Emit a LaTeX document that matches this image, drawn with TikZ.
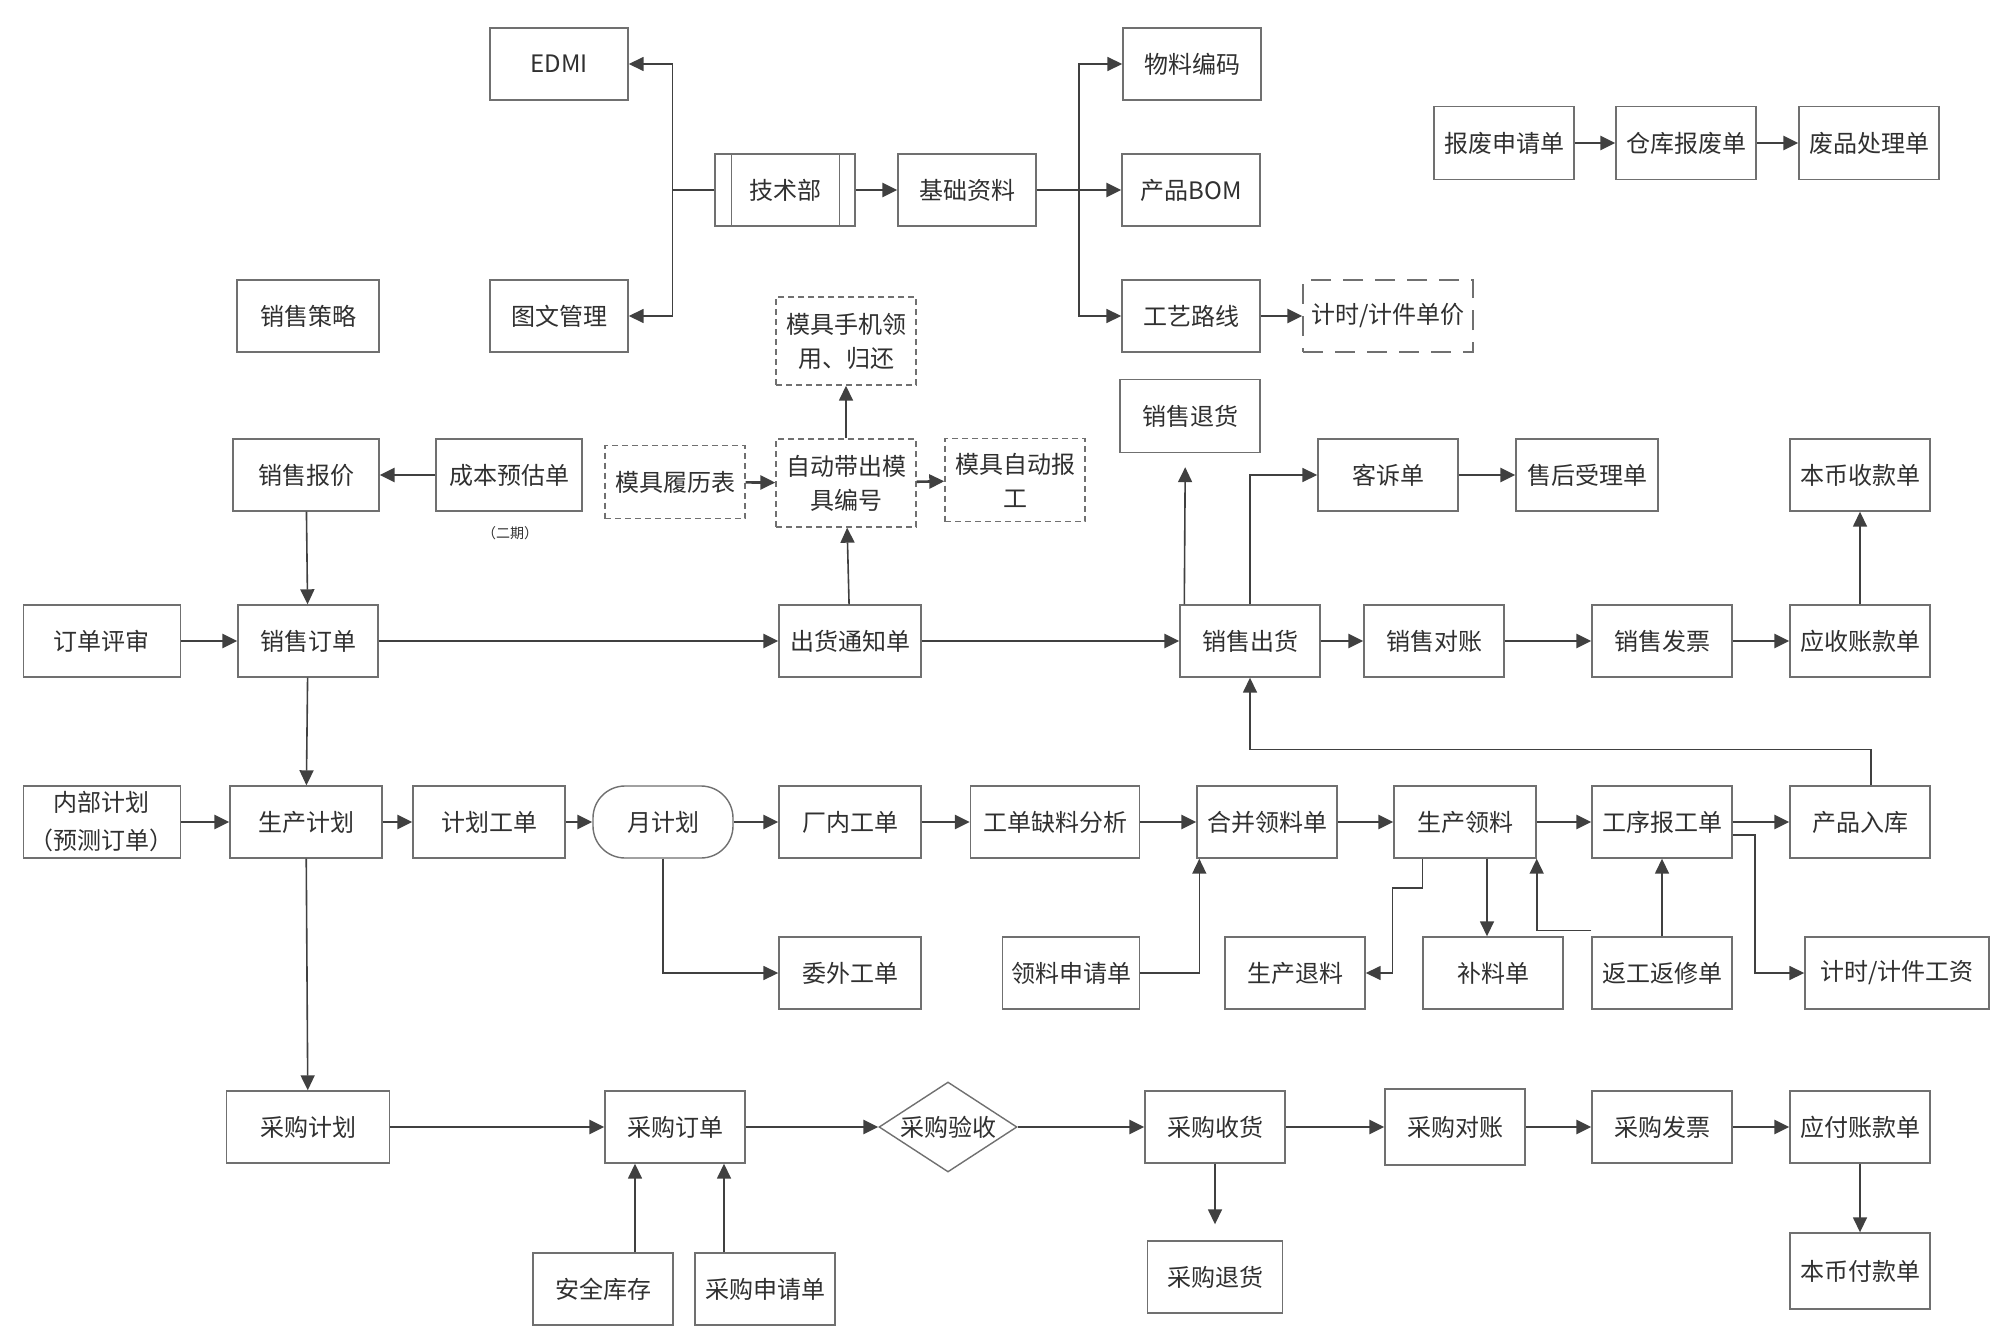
\documentclass[tikz,border=0pt]{standalone}
\usepackage{fontspec}
\setmainfont{Noto Sans CJK SC}
\usetikzlibrary{arrows.meta,shapes.geometric,calc}
\definecolor{boxgray}{HTML}{707070}
\definecolor{linegray}{HTML}{404040}
\definecolor{textgray}{HTML}{303030}
\tikzset{
  box/.style={draw=boxgray, line width=0.7pt, fill=white, minimum width=70pt, minimum height=36pt,
    inner sep=0pt, align=center, text=textgray, font=\fontsize{12pt}{17pt}\selectfont},
  dbox/.style={box, dash pattern=on 3pt off 2pt},
  arr/.style={-{Triangle[length=7.5pt,width=7pt]}, color=linegray, line width=1.3pt},
  arrv/.style={arr, line width=0.8pt}
}
\begin{document}
\begin{tikzpicture}[x=0.5pt,y=-0.5pt]
\useasboundingbox (0,0) rectangle (2004,1343);

% technical department
\node[box,minimum width=69pt] (edmi) at (559,64) {EDMI};
\node[box,minimum width=69pt] (tuwen) at (559,316) {图文管理};
\node[box,minimum width=71pt] (celue) at (308,316) {销售策略};
\node[box] (jishu) at (785,190) {技术部};
    \draw[boxgray, line width=0.7pt] ($(jishu.north west)+(17,0)$) -- ($(jishu.south west)+(17,0)$);
    \draw[boxgray, line width=0.7pt] ($(jishu.north east)+(-16,0)$) -- ($(jishu.south east)+(-16,0)$);
\node[box,minimum width=69pt] (jichu) at (967,190) {基础资料};
\node[box,minimum width=69pt] (wuliao) at (1192,64) {物料编码};
\node[box,minimum width=69pt] (bom) at (1191,190) {产品BOM};
\node[box,minimum width=69pt] (gongyi) at (1191,316) {工艺路线};
\node[box,minimum width=85pt,dash pattern=on 10pt off 6pt] (danjia) at (1388,316) {计时/计件单价};

% scrap
\node[box,minimum height=36.5pt] (baofeisq) at (1504,143) {报废申请单};
\node[box,minimum height=36.5pt] (cangku) at (1686,143) {仓库报废单};
\node[box,minimum height=36.5pt] (feipin) at (1869,143) {废品处理单};

% moulds
\node[dbox,minimum height=44pt] (mujushouji) at (846,341) {模具手机领\\用、归还};
\node[dbox,minimum height=36.5pt] (lvli) at (675,482) {模具履历表};
\node[dbox,minimum height=44pt] (zidong) at (846,483) {自动带出模\\具编号};
\node[dbox,minimum height=41.5pt] (baogong) at (1015,480) {模具自动报\\工};

% sales
\node[box,minimum width=73pt] (xsbaojia) at (306,475) {销售报价};
\node[box,minimum width=73pt] (chengben) at (509,475) {成本预估单};
    \node[text=textgray, font=\fontsize{7pt}{8pt}\selectfont] (erqi) at (510,533) {（二期）};
\node[box,minimum height=36.5pt] (xstuihuo) at (1190,416) {销售退货};
\node[box] (kesu) at (1388,475) {客诉单};
\node[box,minimum width=71pt] (shouhou) at (1587,475) {售后受理单};
\node[box] (shoukuan) at (1860,475) {本币收款单};
\node[box,minimum width=78.5pt] (pingshen) at (102,641) {订单评审};
\node[box] (xsdingdan) at (308,641) {销售订单};
\node[box,minimum width=71pt] (chuhuo) at (850,641) {出货通知单};
\node[box] (xschuhuo) at (1250,641) {销售出货};
\node[box] (xsduizhang) at (1434,641) {销售对账};
\node[box] (xsfapiao) at (1662,641) {销售发票};
\node[box] (yingshou) at (1860,641) {应收账款单};

% production
\node[box,minimum width=78.5pt,font=\fontsize{12pt}{19pt}\selectfont] (neibu) at (102,822) {内部计划\\（预测订单）};
\node[box,minimum width=76pt] (scjihua) at (306,822) {生产计划};
\node[box,minimum width=76pt] (jhgongdan) at (489,822) {计划工单};
\node[box,rounded corners=16pt] (yuejihua) at (663,822) {月计划};
\node[box,minimum width=71pt] (changnei) at (850,822) {厂内工单};
\node[box,minimum width=84.5pt] (queliao) at (1055,822) {工单缺料分析};
\node[box] (hebing) at (1267,822) {合并领料单};
\node[box,minimum width=71pt] (sclingliao) at (1465,822) {生产领料};
\node[box] (gongxu) at (1662,822) {工序报工单};
\node[box] (ruku) at (1860,822) {产品入库};
\node[box,minimum width=71pt] (weiwai) at (850,973) {委外工单};
\node[box,minimum width=68.5pt] (lingliaosq) at (1071,973) {领料申请单};
\node[box] (tuiliao) at (1295,973) {生产退料};
\node[box] (buliao) at (1493,973) {补料单};
\node[box] (fangong) at (1662,973) {返工返修单};
\node[box,minimum width=92pt] (gongzi) at (1897,973) {计时/计件工资};

% purchasing
\node[box,minimum width=81.5pt] (cgjihua) at (308,1127) {采购计划};
\node[box] (cgdingdan) at (675,1127) {采购订单};
\node[diamond, draw=boxgray, line width=0.7pt, fill=white, minimum width=69pt, minimum height=45pt, inner sep=0pt] (yanshou) at (948,1127) {};
    \node[text=textgray, font=\fontsize{12pt}{17pt}\selectfont] (yanshoutxt) at (yanshou) {采购验收};
\node[box] (shouhuo) at (1215,1127) {采购收货};
\node[box,minimum height=38pt] (cgduizhang) at (1455,1127) {采购对账};
\node[box] (cgfapiao) at (1662,1127) {采购发票};
\node[box] (yingfu) at (1860,1127) {应付账款单};
\node[box] (anquan) at (603,1289) {安全库存};
\node[box] (cgshenqing) at (765,1289) {采购申请单};
\node[box,minimum width=67.5pt] (cgtuihuo) at (1215,1277) {采购退货};
\node[box,minimum height=38pt] (fukuan) at (1860,1271) {本币付款单};

% connectors, top
\draw[arrv] (jishu.west) -- ++(-42,0) |- (edmi.east);
\draw[arrv] (jishu.west) -- ++(-42,0) |- (tuwen.east);
\draw[arr] (jishu) -- (jichu);
\draw[arrv] (jichu.east) -- ++(42,0) |- (wuliao.west);
\draw[arr] (jichu) -- (bom);
\draw[arrv] (jichu.east) -- ++(42,0) |- (gongyi.west);
\draw[arr] (gongyi) -- (danjia);
\draw[arr] (baofeisq) -- (cangku);
\draw[arr] (cangku) -- (feipin);

% connectors, sales
\draw[arr] (chengben) -- (xsbaojia);
\draw[arrv] (xsbaojia) -- (xsdingdan);
\draw[arr] (lvli) -- (zidong);
\draw[arr] (zidong) -- (baogong);
\draw[arrv] (zidong) -- (mujushouji);
\draw[arrv] (chuhuo) -- (zidong);
\draw[arr] (pingshen) -- (xsdingdan);
\draw[arr] (xsdingdan) -- (chuhuo);
\draw[arr] (chuhuo) -- (xschuhuo);
\draw[arr] (xschuhuo) -- (xsduizhang);
\draw[arr] (xsduizhang) -- (xsfapiao);
\draw[arr] (xsfapiao) -- (yingshou);
\draw[arrv] (yingshou) -- (shoukuan);
\draw[arrv, shorten >=7pt] ($(xschuhuo.north west)+(5,0)$) -- ($(xstuihuo.south west)+(66,0)$);
\draw[arrv] (xschuhuo.north) |- (kesu.west);
\draw[arr] (kesu) -- (shouhou);
\draw[arrv] ($(ruku.north)+(11,0)$) -- ++(0,-36) -| (xschuhuo.south);

% connectors, production
\draw[arrv] (xsdingdan) -- (scjihua);
\draw[arr] (neibu) -- (scjihua);
\draw[arr] (scjihua) -- (jhgongdan);
\draw[arr] (jhgongdan) -- (yuejihua);
\draw[arr] (yuejihua) -- (changnei);
\draw[arr] (changnei) -- (queliao);
\draw[arr] (queliao) -- (hebing);
\draw[arr] (hebing) -- (sclingliao);
\draw[arr] (sclingliao) -- (gongxu);
\draw[arr] (gongxu) -- (ruku);
\draw[arrv] (yuejihua.south) |- (weiwai.west);
\draw[arrv] (lingliaosq.east) -| ($(hebing.south west)+(3,0)$);
\draw[arrv] ($(sclingliao.south west)+(29,0)$) -- ++(0,29) -- ++(-30,0) |- (tuiliao.east);
\draw[arrv] ($(sclingliao.south)+(22,0)$) -- ($(buliao.north)+(-6,0)$);
\draw[arrv] ($(fangong.north west)+(0,-6)$) -| (sclingliao.south east);
\draw[arrv] (fangong) -- (gongxu);
\draw[arrv] ($(gongxu.east)+(0,13)$) -- ++(22,0) |- (gongzi.west);

% connectors, purchasing
\draw[arrv] (scjihua) -- (cgjihua);
\draw[arr] (cgjihua) -- (cgdingdan);
\draw[arr] (cgdingdan) -- (yanshou);
\draw[arr] (yanshou) -- (shouhuo);
\draw[arr] (shouhuo) -- (cgduizhang);
\draw[arr] (cgduizhang) -- (cgfapiao);
\draw[arr] (cgfapiao) -- (yingfu);
\draw[arrv] ($(anquan.north)+(32,0)$) -- ($(cgdingdan.south)+(-40,0)$);
\draw[arrv] ($(cgshenqing.north)+(-41,0)$) -- ($(cgdingdan.south)+(49,0)$);
\draw[arrv, shorten >=8pt] (shouhuo) -- (cgtuihuo);
\draw[arrv] (yingfu) -- (fukuan);

\end{tikzpicture}
\end{document}
